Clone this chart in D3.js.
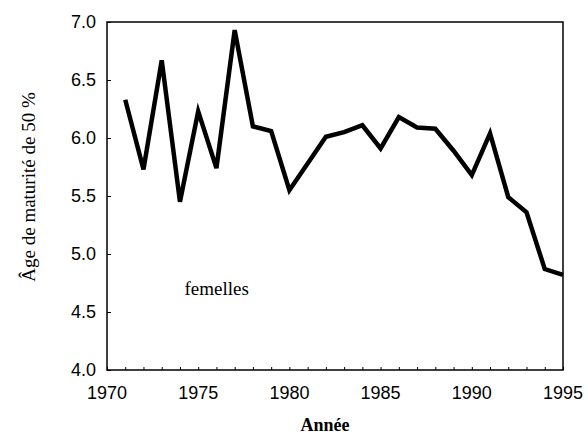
<!DOCTYPE html>
<html>
<head>
<meta charset="utf-8">
<script src="https://cdn.jsdelivr.net/npm/d3@7"></script>
<style>
body { margin: 0; background: #fff; }
</style>
</head>
<body>
<script>
var years = [1971, 1972, 1973, 1974, 1975, 1976, 1977, 1978, 1979, 1980,
  1981, 1982, 1983, 1984, 1985, 1986, 1987, 1988, 1989, 1990,
  1991, 1992, 1993, 1994, 1995];
var ageMaturite = [6.33, 5.73, 6.67, 5.45, 6.23, 5.74, 6.93, 6.10, 6.06, 5.55,
  5.78, 6.01, 6.05, 6.11, 5.91, 6.18, 6.09, 6.08, 5.89, 5.68,
  6.04, 5.49, 5.36, 4.87, 4.82];
var xTicks = [1970, 1975, 1980, 1985, 1990, 1995];
var yTicks = [4.0, 4.5, 5.0, 5.5, 6.0, 6.5, 7.0];

var width = 588, height = 439;
var margin = {top: 22, right: 25, bottom: 69, left: 107};

var svg = d3.select('body').append('svg')
  .attr('width', width).attr('height', height);

var x = d3.scaleLinear().domain([1970, 1995]).range([margin.left, width - margin.right]);
var y = d3.scaleLinear().domain([4, 7]).range([height - margin.bottom, margin.top]);

var data = years.map(function (d, i) { return {year: d, value: ageMaturite[i]}; });

// frame
svg.append('rect')
  .attr('x', x(1970)).attr('y', y(7))
  .attr('width', x(1995) - x(1970)).attr('height', y(4) - y(7))
  .attr('fill', 'none').attr('stroke', '#000').attr('stroke-width', 1.5);

// x axis: labels + small inward yearly ticks
var xAxis = svg.append('g')
  .attr('transform', 'translate(0,' + y(4) + ')')
  .call(d3.axisBottom(x).tickValues(d3.range(1970, 1996)).tickSize(-3).tickFormat(''));
xAxis.select('.domain').remove();
xAxis.selectAll('line').attr('stroke-width', 1);

svg.append('g').selectAll('text')
  .data(xTicks).enter().append('text')
  .attr('x', function (d) { return x(d); })
  .attr('y', y(4) + 29)
  .attr('text-anchor', 'middle')
  .style('font-family', 'Liberation Sans, Arial, sans-serif')
  .style('font-size', '18px')
  .text(function (d) { return d; });

// y axis: labels + inward ticks
var yAxis = svg.append('g')
  .attr('transform', 'translate(' + x(1970) + ',0)')
  .call(d3.axisLeft(y).tickValues(yTicks).tickSize(-4).tickFormat(''));
yAxis.select('.domain').remove();
yAxis.selectAll('line').attr('stroke-width', 1);

svg.append('g').selectAll('text')
  .data(yTicks).enter().append('text')
  .attr('x', x(1970) - 11)
  .attr('y', function (d) { return y(d); })
  .attr('dy', '0.36em')
  .attr('text-anchor', 'end')
  .style('font-family', 'Liberation Sans, Arial, sans-serif')
  .style('font-size', '18px')
  .text(function (d) { return d.toFixed(1); });

// line
var line = d3.line()
  .x(function (d) { return x(d.year); })
  .y(function (d) { return y(d.value); });

svg.append('path')
  .datum(data)
  .attr('d', line)
  .attr('fill', 'none')
  .attr('stroke', '#000')
  .attr('stroke-width', 4.5)
  .attr('stroke-linejoin', 'miter');

// annotation
svg.append('text')
  .attr('x', x(1974.25)).attr('y', y(4.65))
  .style('font-family', 'Liberation Serif, Times New Roman, serif')
  .style('font-size', '19px')
  .text('femelles');

// axis titles
svg.append('text')
  .attr('x', 325).attr('y', 431)
  .attr('text-anchor', 'middle')
  .style('font-family', 'Liberation Serif, Times New Roman, serif')
  .style('font-size', '18px')
  .style('font-weight', 'bold')
  .text('Année');

svg.append('text')
  .attr('transform', 'translate(35,' + 187 + ') rotate(-90)')
  .attr('text-anchor', 'middle')
  .style('font-family', 'Liberation Serif, Times New Roman, serif')
  .style('font-size', '19px')
  .text('Âge de maturité de 50 %');
</script>
</body>
</html>
